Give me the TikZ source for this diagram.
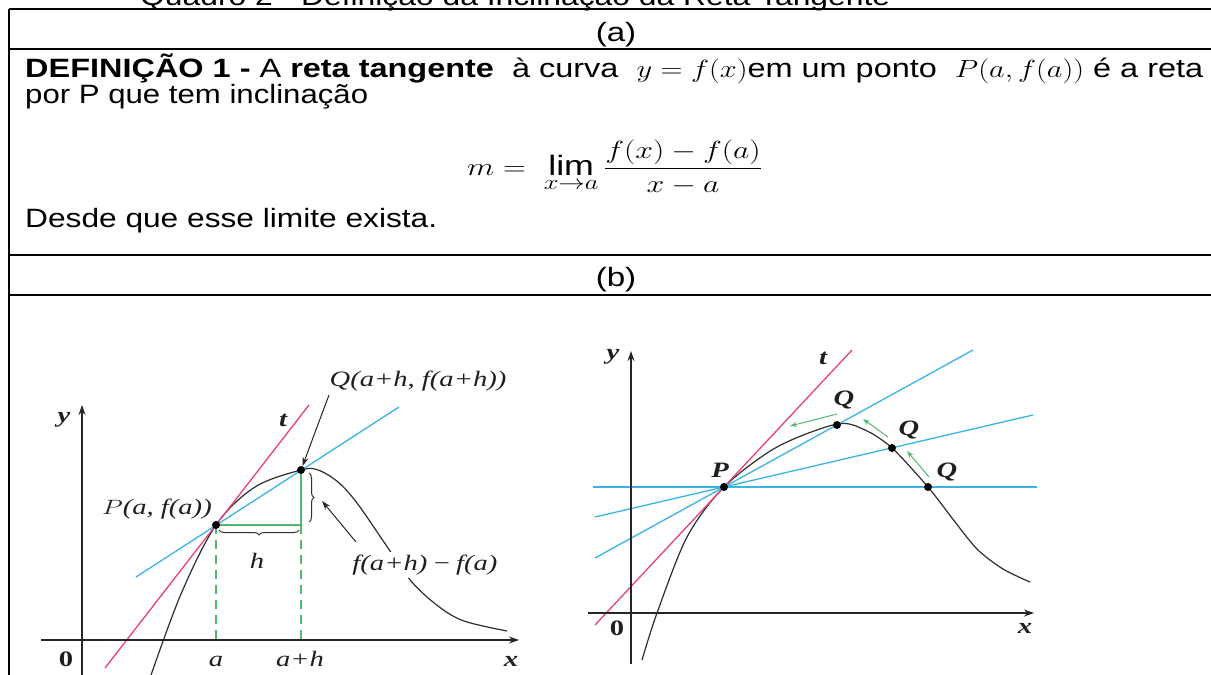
\documentclass[tikz,border=0pt]{standalone}
\usepackage{fontspec}
\setmainfont{Liberation Sans}
\newfontfamily\grf{Liberation Serif}
\usepackage{amsmath}
\usepackage{graphicx}
\usetikzlibrary{arrows.meta,decorations.pathreplacing}
\definecolor{tpink}{HTML}{E8407C}
\definecolor{sblue}{HTML}{38B4E8}
\definecolor{hgreen}{HTML}{52B86E}
\definecolor{crvc}{HTML}{2E2E2E}
\newcommand{\hs}[1]{\scalebox{1.25}[1]{#1}}
\newcommand{\gs}[1]{\scalebox{1.3}[1]{#1}}
\begin{document}
\begin{tikzpicture}[x=1pt,y=-1pt,
  tbl/.style={line width=1.8pt},
  txt/.style={font=\fontsize{26.5}{31}\selectfont, inner sep=0pt, anchor=base west},
  ctr/.style={font=\fontsize{26.5}{31}\selectfont, inner sep=0pt, anchor=base},
  mth/.style={font=\fontsize{28}{33}\selectfont, inner sep=0pt, anchor=base west},
  glab/.style={font=\grf\itshape\fontsize{22}{25}\selectfont, text=black!88, inner sep=1pt},
  gbold/.style={font=\grf\bfseries\itshape\fontsize{22}{25}\selectfont, text=black!88, inner sep=1pt},
  gzero/.style={font=\grf\bfseries\fontsize{22}{25}\selectfont, text=black!88, inner sep=1pt},
  axisln/.style={line width=1.1pt, black!85, -{Stealth[length=10pt,width=7pt]}},
  tanline/.style={tpink, line width=1.3pt},
  secline/.style={sblue, line width=1.3pt},
  grnline/.style={hgreen, line width=1.3pt},
  grnarr/.style={hgreen, line width=1pt, -{Stealth[length=7pt,width=5pt]}},
  crv/.style={crvc, line width=1.2pt},
  ptr/.style={black!85, line width=1pt, -{Stealth[length=9pt,width=6pt]}},
  ptdot/.style={circle, fill=black, inner sep=0pt, minimum size=8pt},
  brc/.style={crvc, line width=1pt, decorate, decoration={brace, amplitude=5pt}},
]
\useasboundingbox (0,0) rectangle (1211,675);
\fill[white] (0,0) rectangle (1211,675);

% ---------- table ----------
\node[txt] (title) at (140,5) {\resizebox{750pt}{\height}{Quadro 2 - Definição da Inclinação da Reta Tangente}};
\draw[tbl] (9,9) -- (1220,9);
\draw[tbl] (9,49) -- (1220,49);
\draw[tbl] (9,255) -- (1220,255);
\draw[tbl] (9,295) -- (1220,295);
\draw[tbl] (9,9) -- (9,680);

\node[ctr] (rowa) at (616,41) {\hs{(a)}};
\node[txt] (line1) at (25,77) {\resizebox{1178pt}{\height}{\textbf{DEFINIÇÃO 1 -} A \textbf{reta tangente}\ \ à curva\ \ $y = f(x)$em um ponto\ \ $P(a,f(a))$ é a reta}};
\node[txt] (line2) at (25,103) {\resizebox{343pt}{\height}{por P que tem inclinação}};
\node[mth] (formula) at (467,175) {\resizebox{295pt}{\height}{$\displaystyle m =\;\lim_{x\to a}\frac{f(x)-f(a)}{x-a}$}};
\node[txt] (line3) at (25,227) {\resizebox{412pt}{\height}{Desde que esse limite exista.}};
\node[ctr] (rowb) at (616,286) {\hs{(b)}};

% ---------- left graph ----------
\coordinate (LP) at (216,525);
\coordinate (LQ) at (301,470);
\coordinate (LC) at (301,525);
\coordinate (LfA) at (216,640);
\coordinate (LfB) at (301,640);
\draw[crv] plot[smooth, tension=0.55] coordinates {(150,678) (181,594) (216,525) (255,487) (301,470) (318,470) (338,482) (357,503) (386,545) (411,581) (438,606) (464,621) (507,631)};
\coordinate (LtA) at (105,668);
\coordinate (LtB) at (309,405);
\draw[tanline] (LtA) -- (LtB);
\coordinate (LsA) at (136,577);
\coordinate (LsB) at (399,407);
\draw[secline] (LsA) -- (LsB);
\draw[grnline] (LP) -- (LC) -- (LQ);
\draw[grnline, dash pattern=on 9pt off 6pt] (LP) -- (LfA);
\draw[grnline, dash pattern=on 9pt off 6pt] (LC) -- (LfB);
\coordinate (LxS) at (41,640);
\coordinate (LxE) at (519,640);
\coordinate (LyS) at (82,680);
\coordinate (LyE) at (82,405);
\draw[axisln] (LxS) -- (LxE);
\draw[axisln] (LyS) -- (LyE);
\coordinate (LbhA) at (299,530);
\coordinate (LbhB) at (219,530);
\draw[brc] (LbhA) -- (LbhB);
\coordinate (LbvA) at (309,473);
\coordinate (LbvB) at (309,522);
\draw[brc] (LbvA) -- (LbvB);
\node[ptdot] (Pdot) at (LP) {};
\node[ptdot] (Qdot) at (LQ) {};
\node[glab, anchor=base east] (Plab) at (213,514) {\gs{$P$(\textit{a}, \textit{f}(\textit{a}))}};
\node[glab, anchor=base] (Qlab) at (418,386) {\gs{\textit{Q}(\textit{a}+\textit{h}, \textit{f}(\textit{a}+\textit{h}))}};
\draw[ptr] (329,395) -- (Qdot);
\node[glab, fill=white, inner sep=3pt, anchor=base] (flab) at (425,570) {\gs{\textit{f}(\textit{a}+\textit{h})\,−\,\textit{f}(\textit{a})}};
\coordinate (LarrS) at (356,542);
\coordinate (LarrE) at (322,501);
\draw[ptr] (LarrS) -- (LarrE);
\node[glab, anchor=base] (hlab) at (257,568) {\gs{h}};
\node[gbold, anchor=base] (Ltlab) at (283,426) {\gs{t}};
\node[gbold, anchor=base] (Lylab) at (64,422) {\gs{y}};
\node[gbold, anchor=base] (Lxlab) at (511,666) {\gs{x}};
\node[gzero, anchor=base] (L0lab) at (66,666) {\gs{0}};
\node[glab, anchor=base] (alab) at (216,666) {\gs{a}};
\node[glab, anchor=base] (ahlab) at (300,666) {\gs{\textit{a}+\textit{h}}};

% ---------- right graph ----------
\coordinate (RP) at (724,487);
\coordinate (RQa) at (837,425);
\coordinate (RQb) at (892,448);
\coordinate (RQc) at (928,487);
\draw[crv] plot[smooth, tension=0.5] coordinates {(642,660) (657,613) (687,537) (724,487) (777,447) (837,424) (865,430) (892,448) (928,487) (952,518) (977,549) (1003,569) (1030,582)};
\coordinate (RtA) at (595,625);
\coordinate (RtB) at (852,350);
\draw[tanline] (RtA) -- (RtB);
\coordinate (RhA) at (593,487);
\coordinate (RhB) at (1037,487);
\draw[secline] (RhA) -- (RhB);
\coordinate (RsA) at (595,517);
\coordinate (RsB) at (1033,415);
\draw[secline] (RsA) -- (RsB);
\coordinate (RuA) at (595,558);
\coordinate (RuB) at (973,350);
\draw[secline] (RuA) -- (RuB);
\coordinate (RxS) at (588,613);
\coordinate (RxE) at (1034,613);
\coordinate (RyS) at (631,664);
\coordinate (RyE) at (631,351);
\draw[axisln] (RxS) -- (RxE);
\draw[axisln] (RyS) -- (RyE);
\node[ptdot] (RPdot) at (RP) {};
\node[ptdot] (RQadot) at (RQa) {};
\node[ptdot] (RQbdot) at (RQb) {};
\node[ptdot] (RQcdot) at (RQc) {};
\draw[grnarr] (929,477) -- (907,451);
\draw[grnarr] (888,437) -- (863,419);
\draw[grnarr] (837,414) -- (790,426);
\node[gbold] (RPlab) at (720,470) {\gs{P}};
\node[gbold] (RQalab) at (844,400) {\gs{Q}};
\node[gbold] (RQblab) at (909,430) {\gs{Q}};
\node[gbold] (RQclab) at (947,472) {\gs{Q}};
\node[gbold] (Rtlab) at (823,358) {\gs{t}};
\node[gbold] (Rylab) at (613,357) {\gs{y}};
\node[gbold] (Rxlab) at (1025,628) {\gs{x}};
\node[gzero] (R0lab) at (617,628) {\gs{0}};
\end{tikzpicture}
\end{document}
